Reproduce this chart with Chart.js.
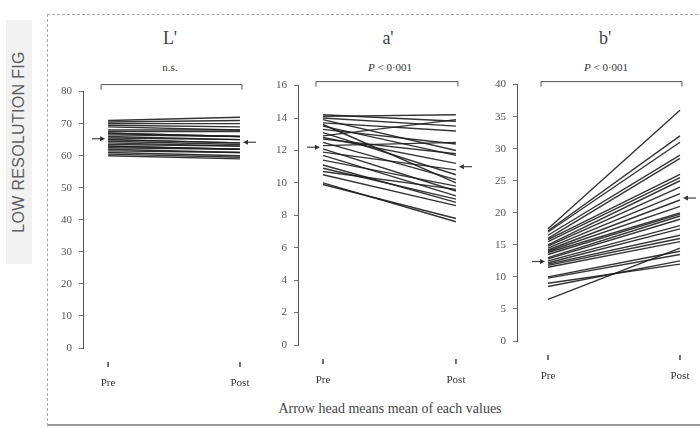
<!DOCTYPE html>
<html>
<head>
<meta charset="utf-8">
<script src="https://cdn.jsdelivr.net/npm/chart.js@4"></script>
<style>
  body { margin: 0; background: #fff; width: 700px; height: 428px; overflow: hidden; position: relative; font-family: "Liberation Serif", "DejaVu Serif", serif; }
  .panel { position: absolute; }
  .frame { position: absolute; left: 47px; top: 14px; width: 670px; height: 409px; border-left: 1px dashed #aaa; border-top: 1px dashed #aaa; border-bottom: 2px solid #999; }
  .title { position: absolute; font-size: 18px; color: #444; transform: translateX(-50%); }
  .sub { position: absolute; font-size: 11px; color: #333; transform: translateX(-50%); white-space: nowrap; }
  .note { position: absolute; left: 390px; top: 401px; font-size: 14px; color: #444; transform: translateX(-50%); white-space: nowrap; }
  .wm { position: absolute; left: 6px; top: 20px; width: 26px; height: 244px; background: #f1f1f1; }
  .wm span { position: absolute; left: 13px; top: 122px; transform: translate(-50%, -50%) rotate(-90deg); font-family: "Liberation Sans", Arial, sans-serif; font-size: 16px; color: #5e5e5e; white-space: nowrap; letter-spacing: 0.3px; }
</style>
</head>
<body>
<div class="frame"></div>
<div class="wm"><span>LOW RESOLUTION FIG</span></div>

<div class="title" style="left:170px; top:28px;">L'</div>
<div class="title" style="left:388px; top:28px;">a'</div>
<div class="title" style="left:605px; top:28px;">b'</div>
<div class="sub" style="left:170px; top:61px;">n.s.</div>
<div class="sub" style="left:390px; top:61px;"><i>P</i> &lt; 0·001</div>
<div class="sub" style="left:606px; top:61px;"><i>P</i> &lt; 0·001</div>
<div class="note">Arrow head means mean of each values</div>

<div class="panel" style="left:40px; top:78px;"><canvas id="chartL" width="220" height="320"></canvas></div>
<div class="panel" style="left:255px; top:72px;"><canvas id="chartA" width="220" height="320"></canvas></div>
<div class="panel" style="left:474px; top:71px;"><canvas id="chartB" width="226" height="320"></canvas></div>

<script>
// L' values, one entry per subject
const lPre  = [71, 70.5, 70, 69.5, 69, 68, 67.5, 67, 66.5, 66, 65.5, 65, 64.5, 64, 63.5, 63, 62.5, 62, 61.5, 61, 60.5, 60, 63, 65, 67];
const lPost = [72, 71, 70, 69, 68, 68, 67.5, 66, 66, 65, 65, 64, 63.5, 63, 63, 62, 62, 61, 61, 60, 59.5, 59, 62, 64, 66];
const lMean = [65.3, 64.2];

// a' values
const aPre  = [14.2, 14.1, 14.0, 13.9, 13.7, 13.5, 13.3, 13.1, 12.9, 12.7, 12.5, 12.3, 12.1, 11.9, 11.7, 11.4, 11.1, 10.9, 10.7, 10.5, 10.0, 9.9, 12.8, 13.6];
const aPost = [13.8, 14.2, 13.5, 12.0, 13.2, 11.7, 12.4, 10.5, 13.9, 11.8, 10.2, 12.5, 9.5, 10.8, 9.2, 9.8, 8.8, 9.0, 9.6, 8.6, 7.6, 7.8, 11.2, 10.0];
const aMean = [12.2, 11.0];

// b' values
const bPre  = [17.5, 17.2, 17.0, 16.5, 16.0, 15.8, 15.5, 15.0, 14.8, 14.5, 14.2, 14.0, 13.8, 13.5, 13.0, 12.8, 12.5, 12.2, 12.0, 11.8, 11.5, 10.0, 9.8, 9.0, 8.5, 6.5];
const bPost = [36.0, 32.0, 31.0, 29.0, 28.5, 26.0, 25.5, 25.0, 24.0, 23.0, 22.0, 21.0, 20.0, 19.8, 19.5, 19.0, 18.0, 17.5, 16.5, 16.0, 15.5, 14.0, 13.5, 12.0, 12.5, 14.5];
const bMean = [12.4, 22.3];

const timeLabels = ['Pre', 'Post'];

const decor = {
    id: 'decor',
    afterDatasetsDraw(chart, args, opts) {
        const ctx = chart.ctx;
        const x = chart.scales.x;
        const y = chart.scales.y;
        const area = chart.chartArea;
        const x0 = x.getPixelForValue(0);
        const x1 = x.getPixelForValue(1);
        ctx.save();
        ctx.strokeStyle = '#555';
        ctx.lineWidth = 1;

        // bracket above the lines
        const by = area.top + opts.bracket;
        ctx.beginPath();
        ctx.moveTo(x0 - 7, by + 5);
        ctx.lineTo(x0 - 7, by);
        ctx.lineTo(x1 + 2, by);
        ctx.lineTo(x1 + 2, by + 5);
        ctx.stroke();

        // small tick marks above Pre / Post
        ctx.lineWidth = 1.5;
        ctx.strokeStyle = '#444';
        [x0, x1].forEach(px => {
            ctx.beginPath();
            ctx.moveTo(px, area.bottom + 14);
            ctx.lineTo(px, area.bottom + 19);
            ctx.stroke();
        });

        // arrow heads for the means
        ctx.fillStyle = '#333';
        ctx.lineWidth = 1.2;
        const m = opts.mean;
        const py = y.getPixelForValue(m[0]);
        ctx.beginPath();
        ctx.moveTo(x0 - 16, py);
        ctx.lineTo(x0 - 6, py);
        ctx.stroke();
        ctx.beginPath();
        ctx.moveTo(x0 - 3, py);
        ctx.lineTo(x0 - 8, py - 2.5);
        ctx.lineTo(x0 - 8, py + 2.5);
        ctx.fill();

        const qy = y.getPixelForValue(m[1]);
        ctx.beginPath();
        ctx.moveTo(x1 + 16, qy);
        ctx.lineTo(x1 + 6, qy);
        ctx.stroke();
        ctx.beginPath();
        ctx.moveTo(x1 + 3, qy);
        ctx.lineTo(x1 + 8, qy - 2.5);
        ctx.lineTo(x1 + 8, qy + 2.5);
        ctx.fill();
        ctx.restore();
    }
};

function makeChart(id, pre, post, mean, yMax, yStep, xMin, xMax, xHeight, bracket) {
    const datasets = pre.map((v, i) => ({
        data: [{x: 0, y: v}, {x: 1, y: post[i]}],
        borderColor: 'rgba(30, 30, 30, 0.9)',
        borderWidth: 1.4,
        pointRadius: 0,
        tension: 0
    }));
    const ctx = document.getElementById(id).getContext('2d');
    return new Chart(ctx, {
        type: 'line',
        data: { datasets: datasets },
        plugins: [decor],
        options: {
            responsive: false,
            animation: false,
            layout: { padding: { top: 10, right: 10, left: 0, bottom: 0 } },
            plugins: {
                legend: { display: false },
                tooltip: { enabled: false },
                decor: { mean: mean, bracket: bracket }
            },
            scales: {
                x: {
                    type: 'linear',
                    min: xMin,
                    max: xMax,
                    afterBuildTicks: s => { s.ticks = [{value: 0}, {value: 1}]; },
                    afterFit: s => {
                        s.height = xHeight;
                        s.paddingLeft = 0;
                        s.paddingRight = 0;
                    },
                    grid: { display: false },
                    border: { display: false },
                    ticks: {
                        padding: 21,
                        maxRotation: 0,
                        color: '#333',
                        font: { family: 'Liberation Serif', size: 11 },
                        callback: v => timeLabels[v]
                    }
                },
                y: {
                    min: 0,
                    max: yMax,
                    afterFit: s => { s.width = 43; },
                    grid: { drawOnChartArea: false, tickLength: 4, color: '#777' },
                    border: { display: true, color: '#555', width: 1 },
                    ticks: {
                        stepSize: yStep,
                        padding: 7,
                        color: '#555',
                        font: { family: 'Liberation Serif', size: 11 }
                    }
                }
            }
        }
    });
}

makeChart('chartL', lPre, lPost, lMean, 80, 10, -0.19, 1.076, 50, -7);
makeChart('chartA', aPre, aPost, aMean, 16, 2, -0.188, 1.068, 47, -4);
makeChart('chartB', bPre, bPost, bMean, 40, 5, -0.235, 1.076, 50, -3);
</script>
</body>
</html>
